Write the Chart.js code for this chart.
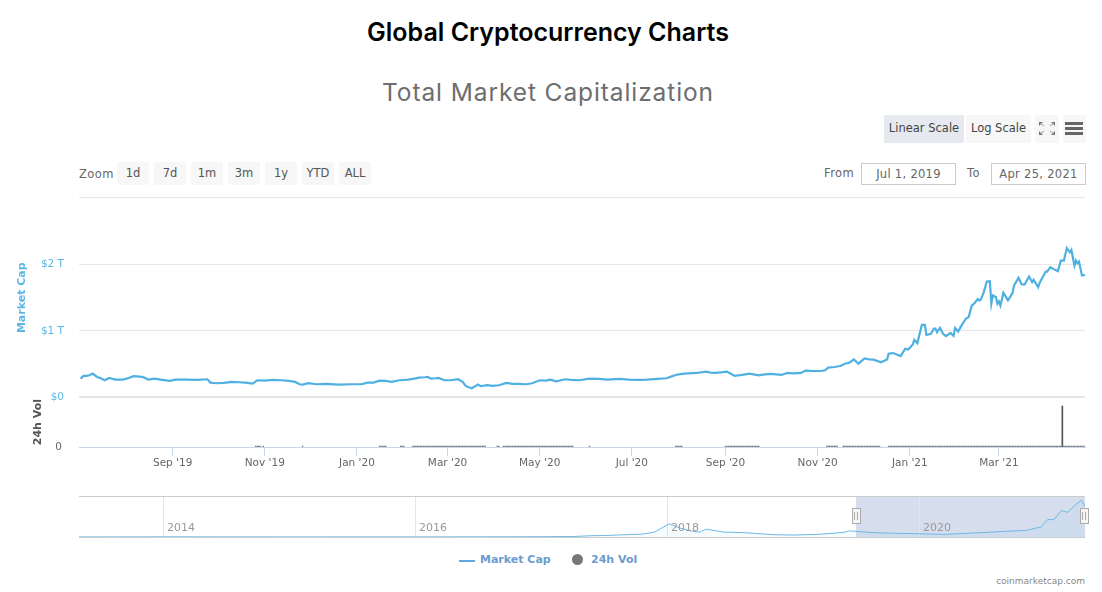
<!DOCTYPE html>
<html>
<head>
<meta charset="utf-8">
<title>Global Cryptocurrency Charts</title>
<script src="https://cdn.jsdelivr.net/npm/chart.js@4"></script>
<style>
  html, body { margin: 0; padding: 0; background: #fff; }
  body { position: relative; width: 1102px; height: 592px; overflow: hidden; font-family: "DejaVu Sans", sans-serif; color: #666; }
  .abs { position: absolute; white-space: nowrap; }
  h1 { position: absolute; left: 0; width: 1096px; top: 16px; margin: 0; text-align: center; font: 600 25px/32px Inter, sans-serif; color: #000; }
  h2 { position: absolute; left: 0; width: 1096px; top: 76px; margin: 0; text-align: center; font: 400 24.5px/32px Inter, sans-serif; letter-spacing: .9px; color: #6e6e6e; }
  .btn { position: absolute; background: #f7f7f7; border-radius: 2px; text-align: center; font-size: 11.5px; color: #444; }
  .btn.on { background: #e6e9f0; }
  .zoomBtn { top: 162px; height: 23px; line-height: 22px; color: #555; }
  .field { position: absolute; top: 163px; height: 20px; width: 93px; border: 1px solid #ccc; text-align: center; font-size: 11.5px; line-height: 20px; letter-spacing: .3px; color: #666; }
  canvas { position: absolute; left: 0; }
</style>
</head>
<body>
<h1>Global Cryptocurrency Charts</h1>
<h2>Total Market Capitalization</h2>

<div class="btn on" style="left:884px;top:115px;width:80px;height:28px;line-height:26px">Linear Scale</div>
<div class="btn" style="left:966px;top:115px;width:65px;height:28px;line-height:26px">Log Scale</div>
<div class="btn" style="left:1035px;top:115px;width:24px;height:28px">
  <svg width="24" height="28" style="display:block"><path d="M4 7h4l-4 4zM20 7h-4l4 4zM4 20h4l-4-4zM20 20h-4l4-4z" fill="#777"/><path d="M5 8l4 3M19 8l-4 3M5 19l4-3M19 19l-4-3" stroke="#999" stroke-width="1"/></svg>
</div>
<div class="btn" style="left:1063px;top:115px;width:23px;height:28px">
  <svg width="23" height="28" style="display:block"><path d="M2 7h18v3H2zM2 12h18v3H2zM2 17h18v3H2z" fill="#666"/></svg>
</div>

<div class="abs" style="left:79px;top:167px;font-size:11.5px;letter-spacing:.4px">Zoom</div>
<div class="btn zoomBtn" style="left:117px;width:32px">1d</div>
<div class="btn zoomBtn" style="left:154px;width:32px">7d</div>
<div class="btn zoomBtn" style="left:191px;width:32px">1m</div>
<div class="btn zoomBtn" style="left:228px;width:32px">3m</div>
<div class="btn zoomBtn" style="left:265px;width:32px">1y</div>
<div class="btn zoomBtn" style="left:302px;width:32px">YTD</div>
<div class="btn zoomBtn" style="left:339px;width:32px">ALL</div>

<div class="abs" style="left:824px;top:166px;font-size:11.5px;letter-spacing:.4px">From</div>
<div class="field" style="left:861px">Jul 1, 2019</div>
<div class="abs" style="left:967px;top:166px;font-size:11.5px;letter-spacing:.4px">To</div>
<div class="field" style="left:991px">Apr 25, 2021</div>
<div class="abs" style="left:79px;top:197px;width:1006px;height:1px;background:#e6e6e6"></div>

<canvas id="mainChart" width="1102" height="305" style="top:175px"></canvas>
<canvas id="navChart" width="1102" height="50" style="top:492px"></canvas>

<!-- legend -->
<div class="abs" style="left:459px;top:560px;width:16px;height:2px;background:#64a9dc"></div>
<div class="abs" style="left:480px;top:553px;font-size:11px;font-weight:bold;color:#6b9bd0">Market Cap</div>
<div class="abs" style="left:572px;top:554px;width:11px;height:11px;border-radius:50%;background:#777"></div>
<div class="abs" style="left:591px;top:553px;font-size:11px;font-weight:bold;color:#6b9bd0">24h Vol</div>
<div class="abs" style="right:17px;top:576px;font-size:9px;color:#888">coinmarketcap.com</div>

<script>
// =============================
// DATA
// =============================

// days since Jul 1, 2019
const capDays = [
  1, 3, 5, 7, 9, 12, 14, 17, 20, 24, 29, 33, 36, 42, 46, 50, 54, 60, 64, 71, 78, 85, 87, 91,
  96, 101, 106, 110, 115, 118, 123, 128, 134, 139, 143, 146, 148, 152, 157, 164, 172, 180, 187, 191, 195, 199,
  203, 207, 212, 218, 222, 225, 229, 231, 233, 236, 238, 242, 246, 251, 254, 256, 258, 260, 262, 264, 266, 270, 274, 278,
  283, 287, 291, 296, 300, 305, 309, 312, 316, 319, 322, 326, 331, 338, 344, 350, 358, 364, 370, 376, 383, 389,
  392, 395, 399, 403, 409, 415, 418, 421, 425, 429, 431, 434, 439, 444, 450, 454, 458, 465, 469, 473, 478, 481, 486, 491,
  494, 496, 500, 504, 507, 510, 513, 516, 520, 523, 526, 531, 535, 536, 539, 544, 547, 549, 552, 553, 555, 558,
  560, 561, 564, 566, 567, 568, 570, 572, 574, 577, 579, 580, 582, 585, 587, 589, 591, 593, 595, 596, 597, 599,
  601, 603, 604, 605, 607, 608, 609, 610, 612, 615, 618, 619, 622, 624, 626, 629, 631, 632, 635, 636, 640, 641,
  643, 645, 648, 650, 652, 654, 656, 657, 659, 660, 661, 662, 664, 666
];

// market cap, trillions of USD
const capValues = [
  0.28, 0.32, 0.32, 0.33, 0.356, 0.305, 0.29, 0.255, 0.29, 0.265, 0.265, 0.29, 0.316, 0.305, 0.265, 0.28, 0.265, 0.245, 0.265, 0.265, 0.26, 0.27, 0.22, 0.21,
  0.215, 0.23, 0.225, 0.22, 0.205, 0.255, 0.25, 0.26, 0.255, 0.245, 0.23, 0.195, 0.19, 0.21, 0.195, 0.2, 0.19, 0.195, 0.195, 0.22, 0.22, 0.25,
  0.245, 0.23, 0.255, 0.265, 0.28, 0.295, 0.3, 0.305, 0.28, 0.285, 0.29, 0.255, 0.255, 0.27, 0.23, 0.17, 0.15, 0.135, 0.16, 0.19, 0.165, 0.18, 0.17, 0.18,
  0.215, 0.2, 0.2, 0.195, 0.21, 0.255, 0.25, 0.265, 0.24, 0.255, 0.27, 0.26, 0.255, 0.28, 0.275, 0.265, 0.275, 0.265, 0.26, 0.265, 0.275, 0.285,
  0.31, 0.335, 0.35, 0.36, 0.365, 0.385, 0.37, 0.365, 0.375, 0.385, 0.36, 0.32, 0.335, 0.355, 0.33, 0.345, 0.35, 0.335, 0.365, 0.36, 0.365, 0.4, 0.395, 0.395,
  0.405, 0.445, 0.455, 0.47, 0.505, 0.52, 0.57, 0.505, 0.585, 0.57, 0.565, 0.525, 0.57, 0.655, 0.665, 0.62, 0.73, 0.72, 0.795, 0.865, 0.815, 1.09,
  1.09, 0.94, 0.955, 1.035, 1.035, 0.98, 1.045, 0.955, 0.92, 0.97, 0.925, 1.045, 0.99, 1.11, 1.18, 1.21, 1.38, 1.42, 1.48, 1.46, 1.47, 1.585,
  1.745, 1.75, 1.41, 1.535, 1.51, 1.41, 1.445, 1.38, 1.575, 1.46, 1.57, 1.685, 1.8, 1.705, 1.7, 1.82, 1.735, 1.77, 1.66, 1.725, 1.895, 1.895,
  1.96, 1.935, 1.9, 2.06, 2.06, 2.25, 2.185, 2.22, 1.985, 2.06, 2.02, 2.045, 1.835, 1.845
];

// days that show a small 24h volume column
const volDays = [
  117, 118, 119, 120, 122, 148, 199, 200, 201, 202, 203, 213, 214, 215,
  221, 222, 223, 224, 225, 226, 227, 228, 229, 230, 231, 232, 233, 234, 235, 236, 237, 238, 239, 240, 241, 242, 243, 244, 245,
  246, 247, 248, 249, 250, 251, 252, 253, 254, 255, 256, 257, 258, 259, 260, 261, 262, 263, 264, 265, 266, 267, 268, 269, 277, 278,
  281, 282, 283, 284, 285, 286, 287, 288, 289, 290, 291, 292, 293, 294, 295, 296, 297, 298, 299, 300, 301, 302, 303, 304,
  305, 306, 307, 308, 309, 310, 311, 312, 313, 314, 315, 316, 317, 318, 319, 320, 321, 322, 323, 324, 325, 326, 327, 338,
  395, 396, 397, 398, 399, 428, 429, 430, 431, 432, 433, 434, 435, 436, 437, 438, 439, 440, 441, 442, 443, 444, 445, 446, 447, 448, 449, 450,
  495, 496, 497, 498, 499, 500, 501, 502, 506, 507, 508, 509, 510, 511, 512, 513, 514, 515, 516, 517, 518, 519, 520, 521, 522, 523, 524, 525, 526, 527, 528, 529, 530,
  536, 537, 538, 539, 540, 541, 542, 543, 544, 545, 546, 547, 548, 549, 550, 551, 552, 553, 554, 555, 556, 557, 558, 559, 560, 561, 562, 563, 564, 565,
  566, 567, 568, 569, 570, 571, 572, 573, 574, 575, 576, 577, 578, 579, 580, 581, 582, 583, 584, 585, 586, 587, 588, 589, 590, 591, 592, 593, 594, 595,
  596, 597, 598, 599, 600, 601, 602, 603, 604, 605, 606, 607, 608, 609, 610, 611, 612, 613, 614, 615, 616, 617, 618, 619, 620, 621, 622, 623, 624, 625,
  626, 627, 628, 629, 630, 631, 632, 633, 634, 635, 636, 637, 638, 639, 640, 641, 642, 643, 644, 645, 646, 647, 648, 649, 650,
  652, 653, 654, 655, 656, 657, 658, 659, 660, 661, 662, 663, 664, 665, 666
];
const volSmallValue = 2;

// the one big volume column
const volBigDays = [651];
const volBigValues = [82];

const tickDays = [62, 123, 184, 244, 305, 366, 428, 489, 550, 609];
const tickLabels = ["Sep '19", "Nov '19", "Jan '20", "Mar '20", "May '20", "Jul '20", "Sep '20", "Nov '20", "Jan '21", "Mar '21"];
const capTicks = [0, 1, 2];

// overview strip: decimal years and market cap in trillions
const navYears = [
  2013.33, 2014, 2015, 2016, 2016.5, 2017, 2017.25, 2017.4, 2017.5, 2017.6, 2017.7, 2017.8, 2017.9, 2017.97, 2018.02, 2018.1, 2018.2, 2018.26,
  2018.31, 2018.45, 2018.6, 2018.7, 2018.85, 2019, 2019.2, 2019.4, 2019.45, 2019.65, 2019.85, 2020, 2020.2, 2020.5, 2020.7, 2020.85, 2020.97,
  2021.02, 2021.07, 2021.13, 2021.18, 2021.24, 2021.29, 2021.317
];
const navValues = [
  0.002, 0.01, 0.005, 0.007, 0.01, 0.018, 0.03, 0.08, 0.09, 0.12, 0.15, 0.17, 0.3, 0.6, 0.8, 0.55, 0.35, 0.3,
  0.48, 0.3, 0.27, 0.22, 0.14, 0.12, 0.16, 0.28, 0.375, 0.26, 0.22, 0.2, 0.16, 0.27, 0.35, 0.4, 0.62,
  1.06, 1.06, 1.62, 1.5, 1.95, 2.25, 1.85
];
const navTicks = [2014, 2016, 2018, 2020];
const navRangeFrom = 2019.5;
const navRangeTo = 2021.317;

const gridColor = '#e6e6e6';
const axisColor = '#ccd6eb';
const capColor = '#4fb0e2';
const tickFont = { family: 'DejaVu Sans', size: 10.5 };


// =============================
// MAIN CHART (PRICE + VOLUME)
// =============================
function fixWidth(axis) {
  axis.width = 79;
}

new Chart(document.getElementById('mainChart'), {
  data: {
    datasets: [
      {
        type: 'line',
        label: 'Market Cap',
        data: capDays.map((d, i) => ({ x: d, y: capValues[i] })),
        yAxisID: 'y',
        borderColor: capColor,
        borderWidth: 2.2,
        pointRadius: 0,
        tension: 0
      },
      {
        type: 'bar',
        label: '24h Vol',
        data: volDays.map(d => ({ x: d, y: volSmallValue })),
        yAxisID: 'vol',
        grouped: false,
        backgroundColor: '#777',
        barThickness: 0.7
      },
      {
        type: 'bar',
        label: '24h Vol peak',
        data: volBigDays.map((d, i) => ({ x: d, y: volBigValues[i] })),
        yAxisID: 'vol',
        grouped: false,
        backgroundColor: '#555',
        barThickness: 1
      }
    ]
  },
  options: {
    responsive: false,
    animation: false,
    layout: { autoPadding: false, padding: { top: 7.5, right: 17, left: 0, bottom: 0 } },
    plugins: { legend: { display: false }, tooltip: { enabled: false } },
    scales: {
      x: {
        type: 'linear',
        min: 0,
        max: 666,
        offset: false,
        afterBuildTicks: axis => { axis.ticks = tickDays.map(v => ({ value: v })); },
        afterFit: axis => { axis.height = 33; },
        grid: { offset: false, drawOnChartArea: false, drawTicks: true, tickLength: 9, tickColor: axisColor },
        border: { color: axisColor },
        ticks: {
          color: '#666',
          font: tickFont,
          padding: 1,
          maxRotation: 0,
          autoSkip: false,
          callback: v => tickLabels[tickDays.indexOf(v)]
        }
      },
      y: {
        type: 'linear',
        position: 'left',
        stack: 'panes',
        stackWeight: 199.5,
        weight: 1,
        min: 0,
        max: 3,
        afterBuildTicks: axis => { axis.ticks = capTicks.map(v => ({ value: v })); },
        afterFit: fixWidth,
        title: { display: true, text: 'Market Cap', color: '#5db7e4', font: { family: 'DejaVu Sans', size: 11, weight: 'bold' }, padding: { top: 16, bottom: 0 } },
        border: { display: false },
        grid: {
          drawTicks: false,
          color: gridColor,
          lineWidth: c => (c.tick && c.tick.value === 0 ? 2 : 1)
        },
        ticks: {
          color: '#5db7e4',
          font: tickFont,
          padding: 15,
          callback: v => (v === 0 ? '$0' : '$' + v + ' T')
        }
      },
      vol: {
        type: 'linear',
        position: 'left',
        stack: 'panes',
        stackWeight: 50,
        weight: 0,
        min: 0,
        max: 100,
        afterBuildTicks: axis => { axis.ticks = [{ value: 0 }]; },
        afterFit: fixWidth,
        title: { display: true, text: '24h Vol', color: '#555', font: { family: 'DejaVu Sans', size: 11, weight: 'bold' }, padding: { top: 32, bottom: 0 } },
        border: { display: false },
        grid: { display: false, drawTicks: false },
        ticks: { color: '#666', font: tickFont, padding: 17 }
      }
    }
  }
});


// =============================
// OVERVIEW STRIP
// =============================
const navOverlay = {
  id: 'navOverlay',
  beforeDatasetsDraw(chart) {
    const { ctx, chartArea: a, scales: { x } } = chart;
    const x0 = x.getPixelForValue(navRangeFrom);
    const x1 = x.getPixelForValue(navRangeTo);
    ctx.save();
    ctx.fillStyle = 'rgba(102,133,194,0.27)';
    ctx.fillRect(x0, a.top, x1 - x0, a.bottom - a.top);
    ctx.strokeStyle = gridColor;
    ctx.beginPath();
    navTicks.forEach(t => {
      const px = Math.round(x.getPixelForValue(t)) + 0.5;
      ctx.moveTo(px, a.top);
      ctx.lineTo(px, a.bottom);
    });
    ctx.stroke();
    ctx.restore();
  },
  afterDatasetsDraw(chart) {
    const { ctx, chartArea: a, scales: { x } } = chart;
    ctx.save();
    ctx.font = '11px "DejaVu Sans"';
    ctx.fillStyle = '#999';
    ctx.textBaseline = 'middle';
    navTicks.forEach(t => ctx.fillText(String(t), x.getPixelForValue(t) + 4, a.top + 32));
    ctx.strokeStyle = '#ccc';
    ctx.beginPath();
    ctx.moveTo(a.left, a.top + 0.5);
    ctx.lineTo(a.right, a.top + 0.5);
    ctx.moveTo(a.left, a.bottom + 0.5);
    ctx.lineTo(a.right, a.bottom + 0.5);
    ctx.stroke();
    // range handles
    [navRangeFrom, navRangeTo].forEach(t => {
      const px = Math.min(Math.round(x.getPixelForValue(t)), a.right - 1);
      const cy = a.top + 20;
      ctx.fillStyle = '#f5f5f5';
      ctx.strokeStyle = '#aaa';
      ctx.fillRect(px - 4, cy - 8, 8, 16);
      ctx.strokeRect(px - 3.5, cy - 7.5, 8, 15);
      ctx.beginPath();
      ctx.moveTo(px - 1.5, cy - 4);
      ctx.lineTo(px - 1.5, cy + 4);
      ctx.moveTo(px + 1.5, cy - 4);
      ctx.lineTo(px + 1.5, cy + 4);
      ctx.stroke();
    });
    ctx.restore();
  }
};

new Chart(document.getElementById('navChart'), {
  type: 'line',
  data: {
    datasets: [{
      data: navYears.map((yr, i) => ({ x: yr, y: navValues[i] })),
      borderColor: '#6db8e4',
      borderWidth: 1,
      backgroundColor: 'rgba(79,176,226,0.05)',
      fill: 'origin',
      pointRadius: 0,
      tension: 0
    }]
  },
  plugins: [navOverlay],
  options: {
    responsive: false,
    animation: false,
    layout: { autoPadding: false, padding: { top: 4, right: 17, left: 79, bottom: 5 } },
    plugins: { legend: { display: false }, tooltip: { enabled: false } },
    scales: {
      x: { type: 'linear', min: 2013.333, max: 2021.317, display: false },
      y: { type: 'linear', min: 0, max: 2.5, display: false }
    }
  }
});
</script>
</body>
</html>
